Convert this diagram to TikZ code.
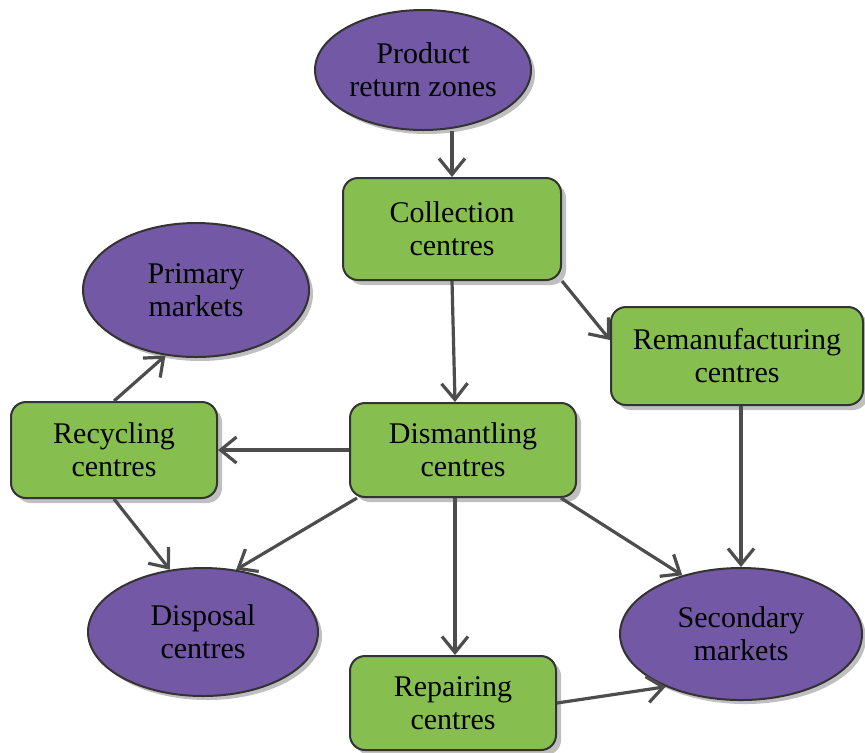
\documentclass[tikz,border=0pt]{standalone}
\usepackage{fontspec}
\setmainfont{Liberation Serif}
\usetikzlibrary{shapes.geometric,shadows,arrows.meta}

\definecolor{boxgreen}{RGB}{134,191,80}
\definecolor{blobpurple}{RGB}{115,88,166}
\definecolor{linegray}{RGB}{77,77,77}

\begin{document}
\begin{tikzpicture}[x=0.5pt,y=-0.5pt,
	every node/.style={align=center, font=\fontsize{15}{16.5}\selectfont, inner sep=0pt},
	box/.style={draw=black!80, line width=1pt, rounded corners=7.5pt, fill=boxgreen,
		drop shadow={shadow xshift=2.5pt, shadow yshift=-2.5pt, opacity=0.5}},
	blob/.style={ellipse, draw=black!80, line width=1pt, fill=blobpurple,
		drop shadow={shadow xshift=2pt, shadow yshift=-2pt, opacity=0.5}},
	flow/.style={draw=linegray, line width=1.6pt, -{Straight Barb[length=8pt,width=13pt,line width=1.6pt]}}]

\useasboundingbox (0,0) rectangle (865,752);

% Ellipses
\node[blob, minimum width=108pt, minimum height=60pt] (prz) at (423,70) {Product\\return zones};
\node[blob, minimum width=113pt, minimum height=67pt] (prim) at (196,290) {Primary\\markets};
\node[blob, minimum width=115pt, minimum height=64pt] (disp) at (203,632) {Disposal\\centres};
\node[blob, minimum width=121pt, minimum height=66pt] (sec) at (741,634) {Secondary\\markets};

% Boxes
\node[box, minimum width=109pt, minimum height=51pt] (col) at (452,229) {Collection\\centres};
\node[box, minimum width=126pt, minimum height=49pt] (reman) at (737,356) {Remanufacturing\\centres};
\node[box, minimum width=103pt, minimum height=48pt] (recyc) at (114,450) {Recycling\\centres};
\node[box, minimum width=113pt, minimum height=47pt] (dism) at (463,450) {Dismantling\\centres};
\node[box, minimum width=103pt, minimum height=47pt] (rep) at (453,703) {Repairing\\centres};

% Flows
\draw[flow] (prz.south -| col.north) -- (col.north);
\draw[flow] (col.south) -- ([xshift=-4pt]dism.north);
\draw[flow] (col.south east) -- ([yshift=8pt]reman.west);
\draw[flow] (reman.south -| sec.north) -- (sec.north);
\draw[flow] (dism.west) -- (recyc.east);
\draw[flow] (recyc.north) -- (prim.-115);
\draw[flow] (recyc.south) -- (disp.118);
\draw[flow] ([xshift=4pt]dism.south west) -- (disp.62);
\draw[flow] ([xshift=-4pt]dism.south) -- ([xshift=1pt]rep.north);
\draw[flow] ([xshift=-8pt]dism.south east) -- (sec.135);
\draw[flow] (rep.east) -- (sec.-145);

\end{tikzpicture}
\end{document}
